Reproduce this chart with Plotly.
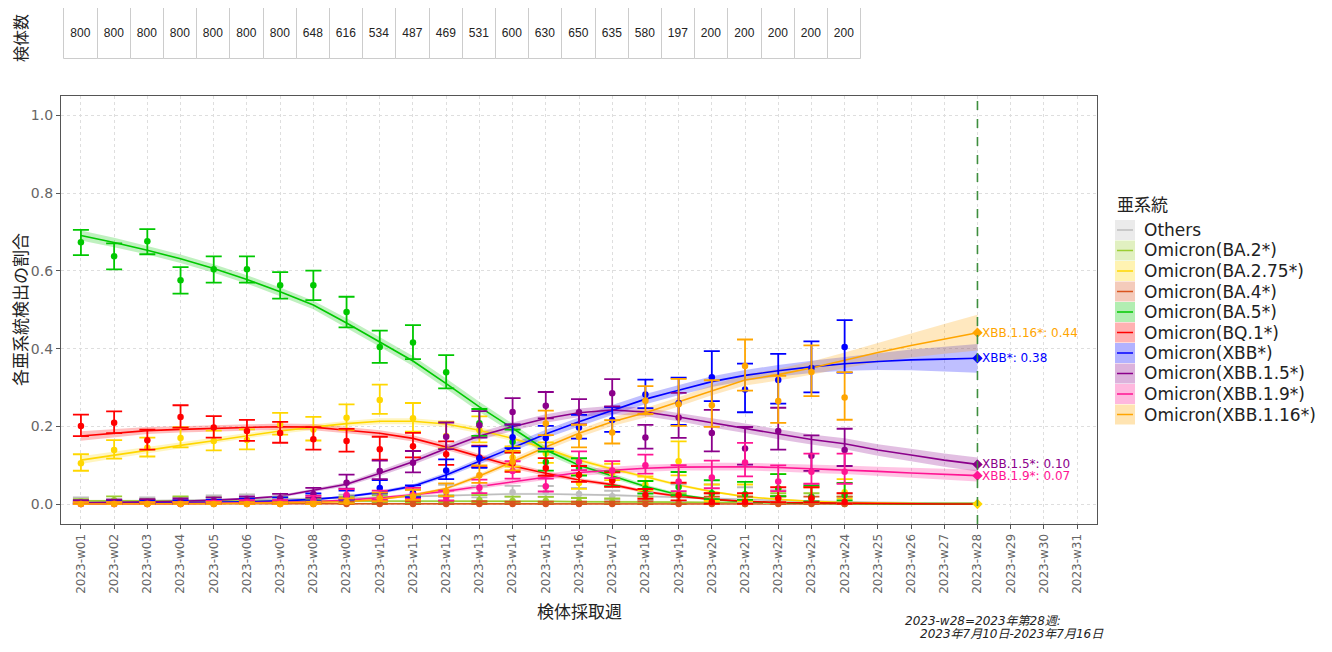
import math
import plotly.graph_objects as go

# ---------------- data ----------------
week_labels = ["2023-w01", "2023-w02", "2023-w03", "2023-w04", "2023-w05", "2023-w06", "2023-w07",
               "2023-w08", "2023-w09", "2023-w10", "2023-w11", "2023-w12", "2023-w13", "2023-w14",
               "2023-w15", "2023-w16", "2023-w17", "2023-w18", "2023-w19", "2023-w20", "2023-w21",
               "2023-w22", "2023-w23", "2023-w24", "2023-w25", "2023-w26", "2023-w27", "2023-w28",
               "2023-w29", "2023-w30", "2023-w31"]
all_weeks = list(range(1, 32))
obs_weeks = list(range(1, 25))
fit_weeks = list(range(1, 29))
proj_week = 28

sample_n = [800, 800, 800, 800, 800, 800, 800, 648, 616, 534, 487, 469, 531, 600, 630, 650,
            635, 580, 197, 200, 200, 200, 200, 200]

series_names = ["Others", "Omicron(BA.2*)", "Omicron(BA.2.75*)", "Omicron(BA.4*)", "Omicron(BA.5*)",
                "Omicron(BQ.1*)", "Omicron(XBB*)", "Omicron(XBB.1.5*)", "Omicron(XBB.1.9*)",
                "Omicron(XBB.1.16*)"]
short_names = ["Others", "BA.2*", "BA.2.75*", "BA.4*", "BA.5*", "BQ.1*", "XBB*", "XBB.1.5*",
               "XBB.1.9*", "XBB.1.16*"]
series_colors = ["#BEBEBE", "#9ACD32", "#FFD700", "#D9541E", "#00C800", "#FF0000", "#0000FF",
                 "#8B008B", "#FF1493", "#FFA500"]
labelled = ["XBB*", "XBB.1.5*", "XBB.1.9*", "XBB.1.16*"]
diamond_series = ["BA.2.75*", "XBB*", "XBB.1.5*", "XBB.1.9*", "XBB.1.16*"]

# observed proportions (weeks 1-24)
obs_others = [0.008, 0.005, 0.008, 0.008, 0.012, 0.014, 0.010, 0.012, 0.012, 0.015, 0.020, 0.030,
              0.028, 0.030, 0.030, 0.026, 0.020, 0.015, 0.020, 0.020, 0.015, 0.010, 0.020, 0.005]
obs_ba2 = [0.005, 0.010, 0.005, 0.010, 0.008, 0.006, 0.008, 0.005, 0.008, 0.010, 0.008, 0.009,
           0.010, 0.008, 0.008, 0.006, 0.005, 0.008, 0.005, 0.005, 0.000, 0.005, 0.005, 0.000]
obs_ba275 = [0.105, 0.139, 0.145, 0.170, 0.162, 0.165, 0.205, 0.192, 0.222, 0.268, 0.221, 0.175,
             0.190, 0.120, 0.130, 0.054, 0.080, 0.050, 0.110, 0.020, 0.020, 0.040, 0.015, 0.030]
obs_ba4 = [0.0] * 24
obs_ba5 = [0.674, 0.638, 0.676, 0.576, 0.604, 0.604, 0.563, 0.563, 0.494, 0.404, 0.416, 0.339,
           0.208, 0.160, 0.108, 0.093, 0.062, 0.040, 0.044, 0.028, 0.025, 0.040, 0.018, 0.023]
obs_bq1 = [0.201, 0.209, 0.164, 0.224, 0.197, 0.188, 0.183, 0.167, 0.162, 0.141, 0.149, 0.128,
           0.120, 0.105, 0.093, 0.075, 0.060, 0.023, 0.023, 0.005, 0.005, 0.015, 0.015, 0.005]
obs_xbb = [0.002, 0.003, 0.003, 0.003, 0.004, 0.006, 0.008, 0.015, 0.020, 0.041, 0.029, 0.086,
           0.118, 0.172, 0.170, 0.197, 0.216, 0.282, 0.260, 0.326, 0.295, 0.319, 0.350, 0.404]
obs_xbb15 = [0.003, 0.004, 0.005, 0.006, 0.008, 0.010, 0.015, 0.026, 0.055, 0.085, 0.106, 0.173,
             0.203, 0.237, 0.253, 0.236, 0.285, 0.171, 0.223, 0.183, 0.143, 0.188, 0.124, 0.139]
obs_xbb19 = [0.000, 0.000, 0.000, 0.000, 0.002, 0.003, 0.003, 0.010, 0.023, 0.019, 0.024, 0.018,
             0.042, 0.085, 0.046, 0.109, 0.086, 0.100, 0.058, 0.068, 0.107, 0.058, 0.083, 0.083]
obs_xbb116 = [0.000, 0.000, 0.000, 0.000, 0.000, 0.000, 0.000, 0.000, 0.005, 0.015, 0.020, 0.033,
              0.074, 0.109, 0.207, 0.173, 0.184, 0.266, 0.257, 0.254, 0.355, 0.265, 0.340, 0.274]

# fitted proportions (weeks 1-28)
fit_others = [0.006, 0.007, 0.008, 0.009, 0.010, 0.011, 0.012, 0.013, 0.015, 0.017, 0.019, 0.022,
              0.024, 0.026, 0.026, 0.025, 0.023, 0.020, 0.017, 0.014, 0.011, 0.009, 0.007, 0.005,
              0.004, 0.003, 0.002, 0.002]
fit_ba2 = [0.008, 0.008, 0.008, 0.008, 0.008, 0.008, 0.008, 0.008, 0.008, 0.008, 0.008, 0.008,
           0.008, 0.007, 0.007, 0.006, 0.006, 0.005, 0.005, 0.004, 0.004, 0.003, 0.003, 0.003,
           0.002, 0.002, 0.002, 0.002]
fit_ba275 = [0.113, 0.126, 0.139, 0.151, 0.163, 0.176, 0.188, 0.198, 0.207, 0.213, 0.213, 0.206,
             0.190, 0.169, 0.143, 0.113, 0.090, 0.070, 0.049, 0.032, 0.019, 0.012, 0.007, 0.004,
             0.002, 0.001, 0.000, 0.000]
fit_ba4 = [0.001] * 10 + [0.0] * 18
fit_ba5 = [0.691, 0.673, 0.653, 0.631, 0.606, 0.578, 0.546, 0.512, 0.466, 0.417, 0.368, 0.310,
           0.250, 0.195, 0.139, 0.100, 0.073, 0.045, 0.024, 0.012, 0.006, 0.003, 0.002, 0.001,
           0.000, 0.000, 0.000, 0.000]
fit_bq1 = [0.175, 0.182, 0.189, 0.192, 0.195, 0.197, 0.199, 0.198, 0.190, 0.182, 0.169, 0.147,
           0.122, 0.098, 0.079, 0.062, 0.050, 0.032, 0.020, 0.012, 0.007, 0.004, 0.003, 0.002,
           0.001, 0.000, 0.000, 0.000]
fit_xbb = [0.001, 0.002, 0.002, 0.003, 0.004, 0.006, 0.008, 0.012, 0.019, 0.030, 0.046, 0.075,
           0.110, 0.146, 0.180, 0.212, 0.242, 0.270, 0.293, 0.315, 0.331, 0.343, 0.353, 0.361,
           0.367, 0.371, 0.373, 0.375]
fit_xbb15 = [0.003, 0.004, 0.005, 0.007, 0.010, 0.014, 0.020, 0.035, 0.051, 0.079, 0.109, 0.143,
             0.175, 0.199, 0.220, 0.235, 0.242, 0.237, 0.224, 0.209, 0.195, 0.180, 0.166, 0.155,
             0.139, 0.126, 0.113, 0.102]
fit_xbb19 = [0.000, 0.000, 0.001, 0.001, 0.002, 0.003, 0.004, 0.006, 0.010, 0.016, 0.024, 0.033,
             0.045, 0.057, 0.070, 0.081, 0.087, 0.092, 0.095, 0.096, 0.096, 0.094, 0.091, 0.088,
             0.084, 0.080, 0.077, 0.073]
fit_xbb116 = [0.000, 0.000, 0.000, 0.001, 0.001, 0.002, 0.003, 0.004, 0.006, 0.012, 0.023, 0.040,
              0.072, 0.109, 0.147, 0.182, 0.212, 0.235, 0.263, 0.293, 0.319, 0.333, 0.350, 0.370,
              0.390, 0.408, 0.425, 0.441]

# half-widths of the fitted confidence ribbons (weeks 1-28)
band_others = [0.003] * 28
band_ba2 = [0.003] * 28
band_ba275 = [0.010, 0.009, 0.008, 0.007, 0.007, 0.007, 0.007, 0.007, 0.007, 0.008, 0.008, 0.008,
              0.008, 0.007, 0.007, 0.006, 0.005, 0.004, 0.004, 0.003, 0.002, 0.002, 0.001, 0.001,
              0.001, 0.001, 0.001, 0.001]
band_ba4 = [0.001] * 28
band_ba5 = [0.013, 0.012, 0.011, 0.011, 0.011, 0.011, 0.011, 0.011, 0.012, 0.012, 0.013, 0.013,
            0.013, 0.012, 0.010, 0.008, 0.007, 0.005, 0.004, 0.003, 0.002, 0.001, 0.001, 0.001,
            0.001, 0.001, 0.001, 0.001]
band_bq1 = [0.012, 0.010, 0.009, 0.008, 0.008, 0.008, 0.008, 0.008, 0.008, 0.008, 0.008, 0.008,
            0.007, 0.007, 0.006, 0.005, 0.005, 0.004, 0.003, 0.002, 0.002, 0.001, 0.001, 0.001,
            0.001, 0.001, 0.001, 0.001]
band_xbb = [0.001, 0.001, 0.001, 0.001, 0.001, 0.001, 0.002, 0.002, 0.003, 0.004, 0.005, 0.006,
            0.008, 0.010, 0.011, 0.012, 0.013, 0.013, 0.013, 0.014, 0.014, 0.015, 0.016, 0.018,
            0.022, 0.027, 0.032, 0.037]
band_xbb15 = [0.001, 0.001, 0.001, 0.001, 0.002, 0.002, 0.003, 0.004, 0.005, 0.007, 0.008, 0.009,
              0.010, 0.011, 0.011, 0.011, 0.011, 0.011, 0.011, 0.012, 0.012, 0.013, 0.013, 0.014,
              0.015, 0.016, 0.017, 0.018]
band_xbb19 = [0.000, 0.000, 0.000, 0.000, 0.001, 0.001, 0.001, 0.002, 0.002, 0.003, 0.004, 0.005,
              0.006, 0.007, 0.008, 0.008, 0.009, 0.009, 0.009, 0.010, 0.010, 0.010, 0.011, 0.011,
              0.012, 0.013, 0.014, 0.015]
band_xbb116 = [0.000, 0.000, 0.000, 0.000, 0.000, 0.001, 0.001, 0.001, 0.001, 0.002, 0.003, 0.004,
               0.006, 0.008, 0.009, 0.010, 0.011, 0.012, 0.012, 0.013, 0.014, 0.015, 0.017, 0.020,
               0.025, 0.031, 0.038, 0.046]

obs_all = [obs_others, obs_ba2, obs_ba275, obs_ba4, obs_ba5, obs_bq1, obs_xbb, obs_xbb15, obs_xbb19, obs_xbb116]
fit_all = [fit_others, fit_ba2, fit_ba275, fit_ba4, fit_ba5, fit_bq1, fit_xbb, fit_xbb15, fit_xbb19, fit_xbb116]
band_all = [band_others, band_ba2, band_ba275, band_ba4, band_ba5, band_bq1, band_xbb, band_xbb15,
            band_xbb19, band_xbb116]

# ---------------- geometry (page pixels; the page body has an 8px margin) ----------------
OFF = 8
W, H = 1332 - 2 * OFF, 652 - 2 * OFF
PLOT_L, PLOT_R, PLOT_T, PLOT_B = 61, 1097, 96, 524   # page px of the main panel
TABLE_T, TABLE_B = 8, 59
ML = PLOT_L - OFF
MR = W - (PLOT_R - OFF)
MT = TABLE_T - OFF
MB = H - (PLOT_B - OFF)
PW, PH = W - ML - MR, H - MT - MB
MAIN_TOP = (PLOT_B - PLOT_T) / PH
TABLE_BOT = (PLOT_B - TABLE_B) / PH


def px_x(p):
    return (p - PLOT_L) / PW


def px_y(p):
    return (PLOT_B - p) / PH


def rgba(hexc, a):
    h = hexc.lstrip("#")
    r, g, b = int(h[0:2], 16), int(h[2:4], 16), int(h[4:6], 16)
    return f"rgba({r},{g},{b},{a})"


def wilson(p, n, z=1.96):
    d = 1 + z * z / n
    c = (p + z * z / (2 * n)) / d
    h = z * math.sqrt(p * (1 - p) / n + z * z / (4 * n * n)) / d
    return max(0.0, c - h), min(1.0, c + h)


fig = go.Figure()

# ribbons
for name, col, fit, band in zip(series_names, series_colors, fit_all, band_all):
    up = [max(0, f + b) for f, b in zip(fit, band)]
    lo = [max(0, f - b) for f, b in zip(fit, band)]
    fig.add_trace(go.Scatter(x=fit_weeks + fit_weeks[::-1], y=up + lo[::-1], fill="toself",
                             fillcolor=rgba(col, 0.25), line=dict(width=0), mode="lines",
                             hoverinfo="skip", showlegend=False))

# fitted lines
for name, col, fit in zip(series_names, series_colors, fit_all):
    fig.add_trace(go.Scatter(x=fit_weeks, y=fit, mode="lines", line=dict(color=col, width=1.6),
                             name=name, showlegend=False))

# observed points with error bars
for name, col, obs in zip(series_names, series_colors, obs_all):
    ci = [wilson(p, n) for p, n in zip(obs, sample_n)]
    fig.add_trace(go.Scatter(
        x=obs_weeks, y=obs, mode="markers", marker=dict(color=col, size=6.5),
        error_y=dict(type="data", symmetric=False,
                     array=[c[1] - p for c, p in zip(ci, obs)],
                     arrayminus=[p - c[0] for c, p in zip(ci, obs)],
                     color=col, thickness=1.8, width=8),
        name=name, showlegend=False))

# projection diamonds and labels
annotations = []
for sname, col, fit in zip(short_names, series_colors, fit_all):
    if sname in diamond_series:
        fig.add_trace(go.Scatter(x=[proj_week], y=[fit[-1]], mode="markers",
                                 marker=dict(symbol="diamond", size=8, color=col),
                                 showlegend=False, hoverinfo="skip"))
    if sname in labelled:
        annotations.append(dict(x=proj_week, y=fit[-1], xref="x", yref="y", xanchor="left",
                                yanchor="middle", xshift=3, showarrow=False,
                                text=f"{sname}: {fit[-1]:.2f}",
                                font=dict(family="DejaVu Sans", size=12, color=col)))

# sample-count table
fig.add_trace(go.Bar(x=obs_weeks, y=[1] * len(obs_weeks), xaxis="x2", yaxis="y2", width=1,
                     marker=dict(color="white", line=dict(color="#CCCCCC", width=1)),
                     text=[str(n) for n in sample_n], textposition="inside",
                     insidetextanchor="middle", constraintext="none",
                     textfont=dict(family="Liberation Sans, Arial", size=12, color="#222222"),
                     showlegend=False, hoverinfo="skip"))

shapes = [dict(type="line", xref="x", yref="y domain", x0=proj_week, x1=proj_week, y0=0, y1=1,
               line=dict(color="#3E8E3E", width=1.6, dash="dash"))]

# custom legend
LEG_X, LEG_Y0, LEG_DY = 1115, 230, 20.5
annotations.append(dict(x=px_x(LEG_X), y=px_y(203), xref="paper", yref="paper", xanchor="left",
                        yanchor="middle", showarrow=False, text="亜系統",
                        font=dict(family="Noto Sans CJK JP", size=17, color="#222")))
for i, (name, col) in enumerate(zip(series_names, series_colors)):
    yc = LEG_Y0 + i * LEG_DY
    shapes.append(dict(type="rect", xref="paper", yref="paper", x0=px_x(LEG_X), x1=px_x(LEG_X + 20),
                       y0=px_y(yc + 10), y1=px_y(yc - 10), fillcolor=rgba(col, 0.3),
                       line=dict(width=0), layer="below"))
    shapes.append(dict(type="line", xref="paper", yref="paper", x0=px_x(LEG_X + 2), x1=px_x(LEG_X + 18),
                       y0=px_y(yc), y1=px_y(yc), line=dict(color=col, width=1.5)))
    annotations.append(dict(x=px_x(LEG_X + 27), y=px_y(yc), xref="paper", yref="paper",
                            xanchor="left", yanchor="middle", showarrow=False, text=name,
                            font=dict(family="DejaVu Sans", size=17, color="#222")))

# titles and caption
annotations += [
    dict(x=px_x(20), y=px_y(12), xref="paper", yref="paper", xanchor="center", yanchor="top",
         showarrow=False, text="検体数", textangle=-90,
         font=dict(family="Noto Sans CJK JP", size=16, color="#222")),
    dict(x=px_x(20), y=px_y(310), xref="paper", yref="paper", xanchor="center", yanchor="middle",
         showarrow=False, text="各亜系統検出の割合", textangle=-90,
         font=dict(family="Noto Sans CJK JP", size=17, color="#222")),
    dict(x=px_x(579), y=px_y(610), xref="paper", yref="paper", xanchor="center", yanchor="middle",
         showarrow=False, text="検体採取週",
         font=dict(family="Noto Sans CJK JP", size=17, color="#222")),
    dict(x=px_x(903), y=px_y(630), xref="paper", yref="paper", xanchor="left", yanchor="bottom",
         showarrow=False, text="<i>2023-w28=2023年第28週:</i>",
         font=dict(family="DejaVu Sans, Noto Sans CJK JP", size=12, color="#222")),
    dict(x=px_x(918), y=px_y(643), xref="paper", yref="paper", xanchor="left", yanchor="bottom",
         showarrow=False, text="<i>2023年7月10日-2023年7月16日</i>",
         font=dict(family="DejaVu Sans, Noto Sans CJK JP", size=12, color="#222")),
]

fig.update_layout(
    width=W, height=H, margin=dict(l=ML, r=MR, t=MT, b=MB, pad=0),
    paper_bgcolor="white", plot_bgcolor="white", showlegend=False,
    shapes=shapes, annotations=annotations, bargap=0,
    xaxis=dict(range=[0.4, 31.6], tickvals=all_weeks, ticktext=week_labels, tickangle=-90,
               showgrid=True, gridcolor="#DEDEDE", griddash="dot", gridwidth=1, zeroline=False,
               showline=True, mirror=True, linecolor="#555555", linewidth=1.2,
               ticks="outside", ticklen=4, tickcolor="#555555",
               tickfont=dict(family="DejaVu Sans", size=12, color="#666666"), anchor="y"),
    yaxis=dict(domain=[0, MAIN_TOP], range=[-0.0514, 1.0501], tickvals=[0, 0.2, 0.4, 0.6, 0.8, 1.0],
               tickformat=".1f", showgrid=True, gridcolor="#DEDEDE", griddash="dot", gridwidth=1,
               zeroline=False, showline=True, mirror=True, linecolor="#555555", linewidth=1.2,
               ticks="outside", ticklen=4, tickcolor="#555555",
               tickfont=dict(family="DejaVu Sans", size=14, color="#666666")),
    xaxis2=dict(matches="x", anchor="y2", visible=False, showgrid=False),
    yaxis2=dict(domain=[TABLE_BOT, 1.0], range=[0, 1], visible=False, showgrid=False, anchor="x2"),
)

fig.write_html("out.html")
